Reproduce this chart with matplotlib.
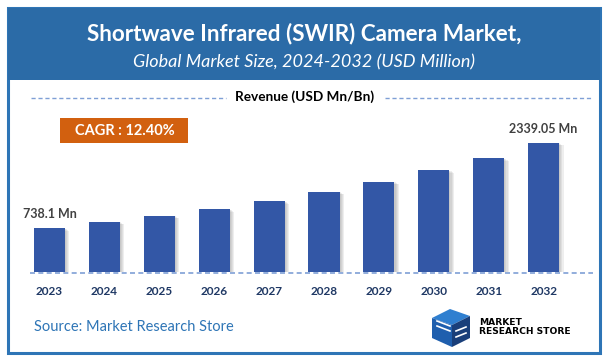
import matplotlib
matplotlib.use("Agg")
import matplotlib.pyplot as plt
import matplotlib.patheffects as pe
from matplotlib.patches import Rectangle, Polygon
import numpy as np

# ------------------------------------------------------------------ #
# Data
# ------------------------------------------------------------------ #
years = ["2023", "2024", "2025", "2026", "2027", "2028", "2029", "2030", "2031", "2032"]
revenue = [738.1, 856, 969, 1095, 1245, 1420, 1607, 1827, 2052, 2339.05]
label_text = {0: "738.1 Mn", 9: "2339.05 Mn"}
axis_floor = -93          # value axis does not start at 0 in the original
cagr_text = "CAGR : 12.40%"

title = "Shortwave Infrared (SWIR) Camera Market,"
subtitle = "Global Market Size, 2024-2032 (USD Million)"
legend_text = "Revenue (USD Mn/Bn)"
source_text = "Source: Market Research Store"

BAR_COLOR = "#3357a6"
HEADER = "#2b6ba7"
BORDER = "#2e75b6"
ORANGE = "#d2600f"
DASH = "#7f9fd6"
YEAR_COLOR = "#1f3864"
FONT = "Lato"

W, H = 608, 363
fig = plt.figure(figsize=(W / 100, H / 100), dpi=100)

# background / decoration axes in pixel coordinates
bg = fig.add_axes([0, 0, 1, 1])
bg.set_xlim(0, W)
bg.set_ylim(H, 0)
bg.axis("off")

bg.add_patch(Rectangle((8, 8), 592, 345, facecolor="white", edgecolor=BORDER, linewidth=2.2))
bg.add_patch(Rectangle((8, 8), 592, 72, facecolor=HEADER, edgecolor="none"))

bg.text(W / 2, 34, title, color="white", fontsize=16.2, fontweight="bold",
        family=FONT, ha="center", va="center")
bg.text(W / 2, 62, subtitle, color="white", fontsize=13, style="italic",
        family=FONT, ha="center", va="center")

# legend line
bg.plot([31, 226], [98, 98], color=DASH, linestyle=(0, (3, 2)), linewidth=1)
bg.plot([385, 593], [98, 98], color=DASH, linestyle=(0, (3, 2)), linewidth=1)
bg.text(305, 97, legend_text, color="black", fontsize=9.8, fontweight="bold",
        family=FONT, ha="center", va="center")

# CAGR box
bg.add_patch(Rectangle((60, 118), 128, 25, facecolor=ORANGE, edgecolor="none"))
bg.text(125, 131, cagr_text, color="white", fontsize=10.5, fontweight="bold",
        family=FONT, ha="center", va="center")

# baseline
bg.plot([30, 593], [272.5, 272.5], color=DASH, linestyle=(0, (3, 2)), linewidth=1.2)

# source
bg.text(34, 327, source_text, color=BORDER, fontsize=10.5, family=FONT,
        ha="left", va="center")

# logo icon (simple cube sketch)
bg.add_patch(Polygon([[432, 318], [450, 309], [470, 316], [452, 325]], closed=True,
                     facecolor="#2f7fd0", edgecolor="none"))
bg.add_patch(Polygon([[432, 318], [452, 325], [452, 347], [432, 338]], closed=True,
                     facecolor="#1f5fae", edgecolor="none"))
bg.add_patch(Polygon([[452, 325], [470, 316], [470, 338], [452, 347]], closed=True,
                     facecolor="#1a3f7a", edgecolor="none"))
for yy in (321, 326):
    bg.plot([437, 450], [yy, yy + 5], color="white", linewidth=1.2)
bg.plot([456, 466], [331, 327], color="white", linewidth=1.2)
bg.plot([456, 466], [337, 333], color="white", linewidth=1.2)
bg.text(479, 322.5, "MARKET", color="black", fontsize=6.6, fontweight="bold",
        family="Liberation Sans Narrow", ha="left", va="center")
bg.text(479, 332, "RESEARCH STORE", color="black", fontsize=6.6, fontweight="bold",
        family="Liberation Sans Narrow", ha="left", va="center")

# ------------------------------------------------------------------ #
# Bar chart axes
# ------------------------------------------------------------------ #
px_per_unit = 0.05328
base_px = 272.3
top_px = 130
x_left_px = 49.5 - 0.5 * 54.9
x_right_px = 49.5 + 9.5 * 54.9
ax = fig.add_axes([x_left_px / W, (H - base_px) / H,
                   (x_right_px - x_left_px) / W, (base_px - top_px) / H])
ax.set_xlim(-0.5, len(years) - 0.5)
ax.set_ylim(axis_floor, axis_floor + (base_px - top_px) / px_per_unit)
ax.patch.set_alpha(0)
for s in ax.spines.values():
    s.set_visible(False)
ax.set_yticks([])

x = np.arange(len(years))
vals = np.array(revenue)
bars = ax.bar(x, vals - axis_floor, bottom=axis_floor, width=0.565, color=BAR_COLOR,
              zorder=3)
# soft shadow: a few faint layers stepping to the right
shadow = [pe.SimplePatchShadow(offset=(k, -0.6 * k), shadow_rgbFace="#7f7f7f", alpha=0.13)
          for k in (3.2, 2.4, 1.6, 0.8)]
for b in bars:
    b.set_path_effects(shadow + [pe.Normal()])

for i, txt in label_text.items():
    ax.annotate(txt, (x[i], vals[i]), xytext=(0, 5.5), textcoords="offset points",
                ha="center", va="bottom", fontsize=9, fontweight="bold",
                color="#404040", family=FONT)

ax.set_xticks(x)
ax.set_xticklabels(years, fontsize=8.5, fontweight="bold", color=YEAR_COLOR, family=FONT)
ax.tick_params(axis="x", length=0, pad=10)

fig.savefig("out.png", dpi=100)
